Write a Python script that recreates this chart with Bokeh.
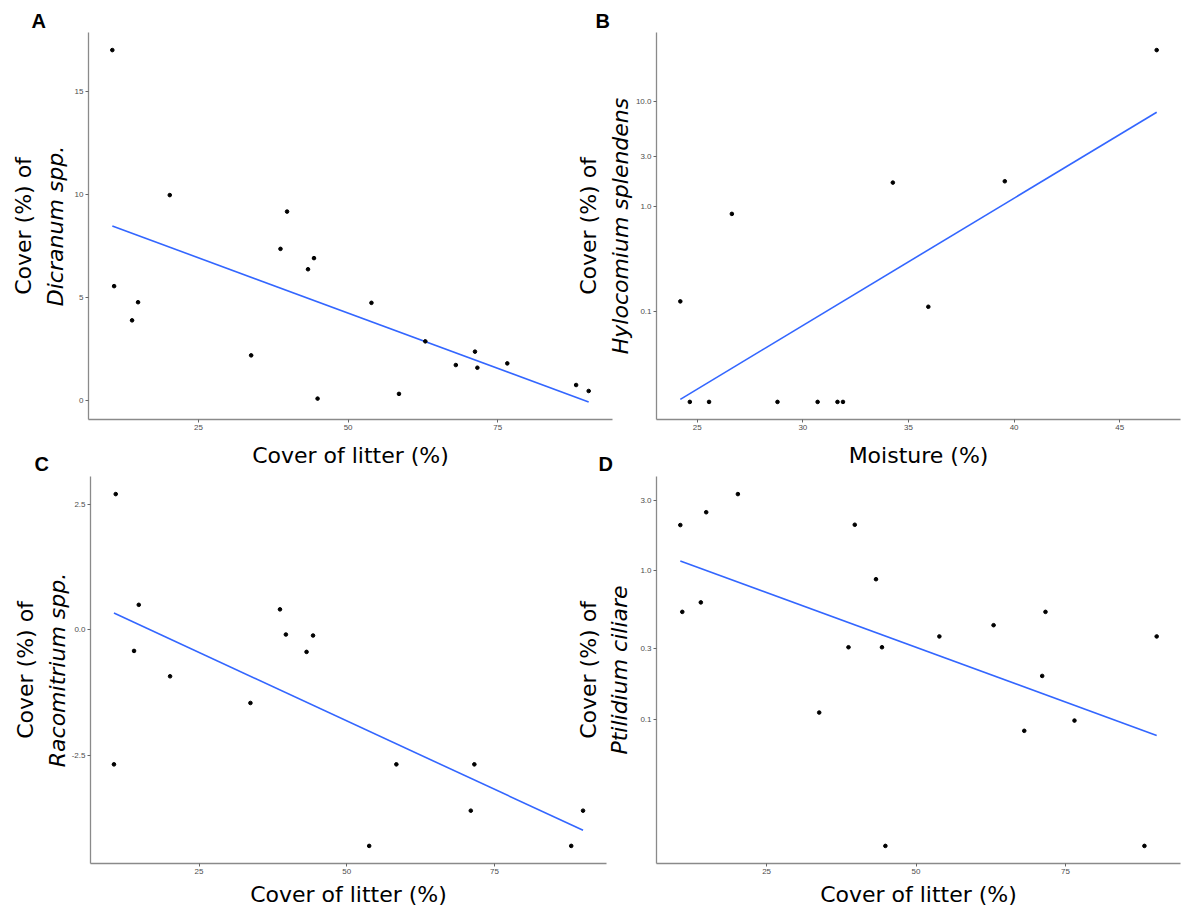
import numpy as np
from bokeh.plotting import figure
from bokeh.layouts import row, column
from bokeh.models import Range1d, FixedTicker, LinearAxis, LogAxis, NumeralTickFormatter
from bokeh.embed import file_html
from bokeh.resources import INLINE

# ---------------- data ----------------
# Panel A
litter_A = [10.6, 10.9, 13.9, 14.9, 20.2, 33.8, 38.7, 39.8, 43.3, 44.3,
            44.9, 53.9, 58.5, 62.9, 68.0, 71.2, 71.6, 76.6, 88.1, 90.2]
dicranum = [17.0, 5.54, 3.88, 4.76, 9.96, 2.18, 7.35, 9.16, 6.36, 6.9,
            0.08, 4.73, 0.31, 2.86, 1.71, 2.36, 1.58, 1.79, 0.74, 0.45]
fit_A_x = [10.6, 90.2]
fit_A_y = [8.46, -0.08]

# Panel B
moisture_B = [24.2, 24.65, 25.56, 26.64, 28.8, 30.7, 31.64, 31.9, 34.26, 35.94, 39.56, 46.75]
hylocomium = [0.126, 0.014, 0.014, 0.853, 0.014, 0.014, 0.014, 0.014, 1.69, 0.112, 1.74, 30.6]
fit_B_x = [24.2, 46.75]
fit_B_y = [0.0148, 7.87]

# Panel C
litter_C = [10.6, 10.9, 14.0, 14.8, 20.1, 33.7, 38.7, 39.7, 43.2, 44.3,
            53.8, 58.4, 71.0, 71.6, 88.0, 90.0]
racomitrium = [-2.67, 2.70, -0.416, 0.50, -0.92, -1.45, 0.41, -0.09, -0.435, -0.11,
               -4.29, -2.67, -3.59, -2.67, -4.29, -3.59]
fit_C_x = [10.6, 90.0]
fit_C_y = [0.336, -3.98]

# Panel D
litter_D = [10.57, 10.9, 14.0, 14.9, 20.2, 33.8, 38.7, 39.75, 43.3, 44.3,
            44.87, 53.9, 62.97, 68.1, 71.1, 71.65, 76.5, 88.2, 90.25]
ptilidium = [2.04, 0.53, 0.614, 2.49, 3.30, 0.111, 0.306, 2.05, 0.88, 0.306,
             0.014, 0.362, 0.431, 0.0836, 0.196, 0.53, 0.098, 0.014, 0.362]
fit_D_x = [10.57, 90.25]
fit_D_y = [1.167, 0.0778]

ticks_litter = [25, 50, 75]
ticks_moisture = [25, 30, 35, 40, 45]
ticks_A = [0, 5, 10, 15]
ticks_B = [0.1, 1.0, 3.0, 10.0]
ticks_C = [-2.5, 0.0, 2.5]
ticks_D = [0.1, 0.3, 1.0, 3.0]

# ---------------- helpers ----------------
AX_FONT = "DejaVu Sans"
TICK_FONT = "Liberation Sans"


def lin_range(vals):
    lo, hi = min(vals), max(vals)
    pad = (hi - lo) * 0.05
    return Range1d(lo - pad, hi + pad)


def log_range(vals):
    lv = np.log10(np.asarray(vals, dtype=float))
    lo, hi = lv.min(), lv.max()
    pad = (hi - lo) * 0.05
    return Range1d(10 ** (lo - pad), 10 ** (hi + pad))


def style_axis(ax, size="22px"):
    ax.axis_line_color = "#8a8a8a"
    ax.axis_line_width = 1.3
    ax.major_tick_line_color = "#666666"
    ax.major_tick_in = 0
    ax.major_tick_out = 3
    ax.minor_tick_line_color = None
    ax.major_label_text_font = TICK_FONT
    ax.major_label_text_font_size = "8px"
    ax.major_label_text_color = "#4d4d4d"
    ax.major_label_standoff = 2
    ax.axis_label_text_font = AX_FONT
    ax.axis_label_text_font_size = size
    ax.axis_label_text_font_style = "normal"
    ax.axis_label_text_color = "black"


def make_panel(letter, x, y, fx, fy, xticks, yticks, yfmt, logy, species, xlab,
               width, height, left, right, top, bottom, xstand, letter_off,
               letter_stand, ystand, outer_stand):
    xr = lin_range(list(x) + list(fx))
    yr = log_range(list(y) + list(fy)) if logy else lin_range(list(y) + list(fy))
    p = figure(width=width, height=height, x_range=xr, y_range=yr,
               y_axis_type="log" if logy else "linear",
               output_backend="svg", toolbar_location=None,
               min_border_left=left, min_border_right=right,
               min_border_top=top, min_border_bottom=bottom,
               title=letter)
    p.background_fill_color = None
    p.border_fill_color = None
    p.outline_line_color = None
    p.grid.visible = False

    p.title.text_font = TICK_FONT
    p.title.text_font_style = "bold"
    p.title.text_font_size = "20px"
    p.title.text_color = "black"
    p.title.align = "left"
    p.title.offset = letter_off
    p.title.standoff = letter_stand

    style_axis(p.xaxis[0])
    p.xaxis[0].ticker = FixedTicker(ticks=xticks)
    p.xaxis[0].axis_label = xlab
    p.xaxis[0].axis_label_standoff = xstand

    yax = p.yaxis[0]
    style_axis(yax)
    yax.ticker = FixedTicker(ticks=yticks)
    if yfmt:
        yax.formatter = NumeralTickFormatter(format=yfmt)
    yax.axis_label = species
    yax.axis_label_text_font_style = "italic"
    yax.axis_label_standoff = ystand

    OuterAxis = LogAxis if logy else LinearAxis
    outer = OuterAxis(ticker=FixedTicker(ticks=[]), axis_label="Cover (%) of")
    style_axis(outer)
    outer.axis_line_color = None
    outer.major_tick_line_color = None
    outer.major_tick_out = 0
    outer.major_label_standoff = 0
    outer.axis_label_standoff = outer_stand
    p.add_layout(outer, "left")

    p.line(fx, fy, line_color="#3366FF", line_width=1.6)
    p.scatter(x, y, size=3.6, color="black")
    return p


pA = make_panel("A", litter_A, dicranum, fit_A_x, fit_A_y, ticks_litter, ticks_A, None, False,
                "Dicranum spp.", "Cover of litter (%)",
                width=622, height=476, left=88, right=10, top=32, bottom=57, xstand=10,
                letter_off=-57, letter_stand=1, ystand=4, outer_stand=4)
pB = make_panel("B", moisture_B, hylocomium, fit_B_x, fit_B_y, ticks_moisture, ticks_B, "0.0", True,
                "Hylocomium splendens", "Moisture (%)",
                width=612, height=476, left=86, right=2, top=32, bottom=57, xstand=10,
                letter_off=-61, letter_stand=1, ystand=0, outer_stand=4)
pC = make_panel("C", litter_C, racomitrium, fit_C_x, fit_C_y, ticks_litter, ticks_C, "0.0", False,
                "Racomitrium spp.", "Cover of litter (%)",
                width=616, height=463, left=90, right=10, top=28, bottom=48, xstand=5,
                letter_off=-56, letter_stand=3, ystand=-1, outer_stand=4)
pD = make_panel("D", litter_D, ptilidium, fit_D_x, fit_D_y, ticks_litter, ticks_D, "0.0", True,
                "Ptilidium ciliare", "Cover of litter (%)",
                width=612, height=463, left=86, right=2, top=28, bottom=48, xstand=5,
                letter_off=-58, letter_stand=3, ystand=5, outer_stand=4)

pB.margin = (0, 0, 0, -52)
pD.margin = (0, 0, 0, -46)
r1 = row(pA, pB)
r2 = row(pC, pD)
r2.margin = (-28, 0, 0, 0)
layout = column(r1, r2)

open("out.html", "w").write(file_html(layout, INLINE))
